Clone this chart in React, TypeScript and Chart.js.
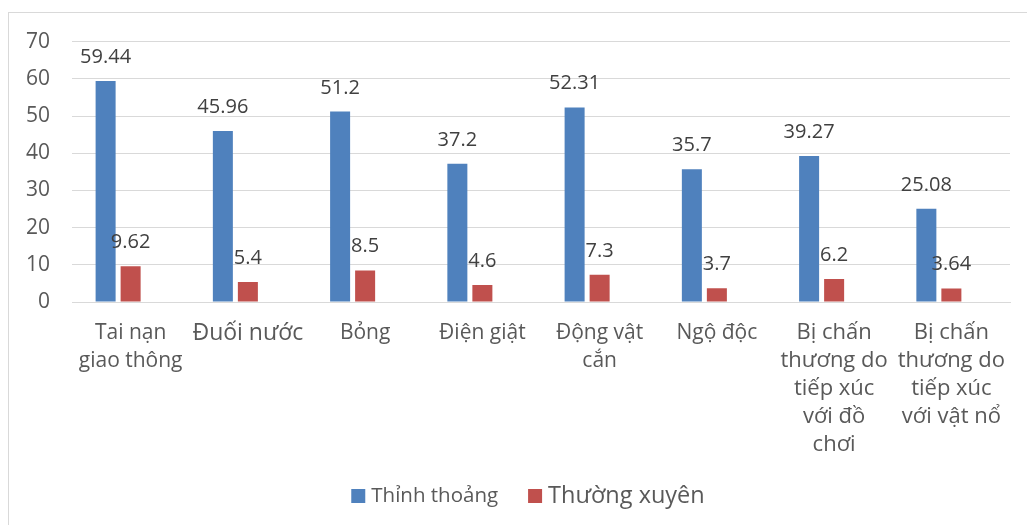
import React, { useEffect, useRef } from "react";
import { Chart, registerables } from "chart.js";

Chart.register(...registerables);

const categories: (string | string[])[] = [
  ["Tai nạn", "giao thông"],
  "Đuối nước",
  "Bỏng",
  "Điện giật",
  ["Động vật", "cắn"],
  "Ngộ độc",
  ["Bị chấn", "thương do", "tiếp xúc", "với đồ", "chơi"],
  ["Bị chấn", "thương do", "tiếp xúc", "với vật nổ"],
];
const thinhThoang = [59.44, 45.96, 51.2, 37.2, 52.31, 35.7, 39.27, 25.08];
const thuongXuyen = [9.62, 5.4, 8.5, 4.6, 7.3, 3.7, 6.2, 3.64];
const emptySeries = [null, null, null, null, null, null, null, null];
const yTicks = [0, 10, 20, 30, 40, 50, 60, 70];
const categoryFontSizes = [21, 23, 21, 21, 21, 21, 22, 22];
const legendFontSizes = [20.5, 23.5];

const FONT = "'Open Sans', 'Noto Sans', sans-serif";

const labelPlugin = {
  id: "valueLabels",
  afterDatasetsDraw(chart: any) {
    const ctx = chart.ctx;
    ctx.save();
    ctx.font = `20px ${FONT}`;
    ctx.fillStyle = "#404040";
    ctx.textAlign = "center";
    ctx.textBaseline = "alphabetic";
    [0, 1].forEach((di) => {
      const meta = chart.getDatasetMeta(di);
      const data = chart.data.datasets[di].data as number[];
      meta.data.forEach((el: any, i: number) => {
        ctx.fillText(String(data[i]), el.x, el.y - 18);
      });
    });
    ctx.restore();
  },
};

const legendPlugin = {
  id: "customLegend",
  afterDraw(chart: any) {
    const ctx = chart.ctx;
    const items = chart.data.datasets
      .map((d: any, i: number) => ({ text: d.label, color: d.backgroundColor, size: legendFontSizes[i] }))
      .filter((it: any) => it.text);
    const box = 14;
    const gapBoxText = 6;
    const gapItems = 30;
    ctx.save();
    const widths = items.map((it: any) => {
      ctx.font = `${it.size}px ${FONT}`;
      return box + gapBoxText + ctx.measureText(it.text).width;
    });
    const total = widths.reduce((a: number, b: number) => a + b, 0) + gapItems * (items.length - 1);
    let x = chart.width / 2 - total / 2;
    const cy = 483;
    items.forEach((it: any, i: number) => {
      ctx.fillStyle = it.color;
      ctx.fillRect(x, cy - box / 2, box, box);
      ctx.font = `${it.size}px ${FONT}`;
      ctx.fillStyle = "#595959";
      ctx.textAlign = "left";
      ctx.textBaseline = "middle";
      ctx.fillText(it.text, x + box + gapBoxText, cy);
      x += widths[i] + gapItems;
    });
    ctx.restore();
  },
};

export default function App() {
  const ref = useRef<HTMLCanvasElement>(null);
  useEffect(() => {
    if (!ref.current) return;
    const chart = new Chart(ref.current, {
      type: "bar",
      data: {
        labels: categories,
        datasets: [
          { label: "Thỉnh thoảng", data: thinhThoang, backgroundColor: "#4f81bd" },
          { label: "Thường xuyên", data: thuongXuyen, backgroundColor: "#c0504d" },
          { label: "", data: emptySeries as any, backgroundColor: "transparent" },
        ],
      },
      options: {
        animation: false,
        responsive: false,
        maintainAspectRatio: false,
        datasets: { bar: { categoryPercentage: 0.64, barPercentage: 0.8 } },
        layout: { padding: { top: 28.7, right: 37, bottom: 0, left: 0 } },
        plugins: {
          legend: { display: false },
          tooltip: { enabled: false },
        },
        scales: {
          x: {
            grid: { display: false, drawTicks: false },
            border: { display: true, color: "#d9d9d9", width: 1 },
            ticks: {
              font: (c: any) => ({
                family: FONT,
                size: categoryFontSizes[c.index] ?? 21,
                lineHeight: "28px",
              }),
              color: "#595959",
              maxRotation: 0,
              autoSkip: false,
              padding: 17,
            },
            afterFit: (s: any) => {
              s.height = 224;
            },
          },
          y: {
            min: 0,
            max: 70,
            afterBuildTicks: (s: any) => {
              s.ticks = yTicks.map((v) => ({ value: v }));
            },
            grid: { color: "#d9d9d9", drawTicks: false },
            border: { display: false },
            ticks: {
              font: { family: FONT, size: 21 },
              color: "#595959",
              padding: 22,
            },
            afterFit: (s: any) => {
              s.width = 63;
              s.paddingTop = 0;
              s.paddingBottom = 0;
            },
          },
        },
      },
      plugins: [labelPlugin, legendPlugin],
    });
    return () => chart.destroy();
  }, []);
  return (
    <div
      style={{
        position: "fixed",
        left: 8,
        top: 12,
        width: 1040,
        height: 520,
        borderTop: "1px solid #d9d9d9",
        borderLeft: "1px solid #d9d9d9",
        background: "#fff",
      }}
    >
      <canvas ref={ref} width={1038} height={513} style={{ display: "block" }} />
    </div>
  );
}
